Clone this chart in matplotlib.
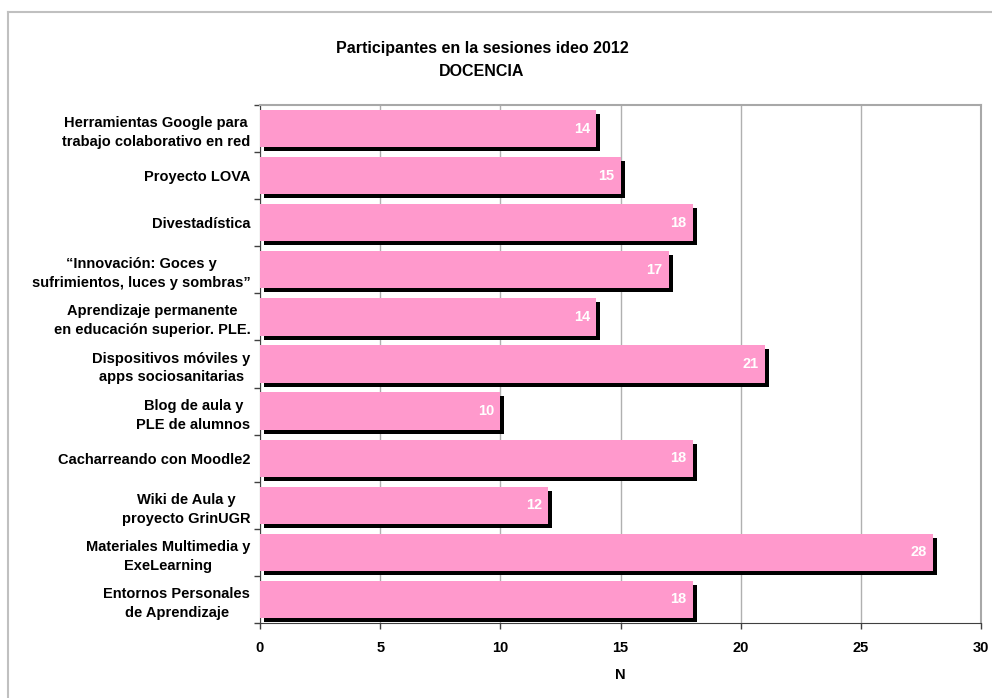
import matplotlib.pyplot as plt
from matplotlib.transforms import ScaledTranslation
from matplotlib.lines import Line2D

# sessions, top to bottom as shown in the chart
sesiones = [
    "Herramientas Google para\ntrabajo colaborativo en red",
    "Proyecto LOVA",
    "Divestadística",
    "\u201cInnovación: Goces y\nsufrimientos, luces y sombras\u201d",
    "Aprendizaje permanente\nen educación superior. PLE.",
    "Dispositivos móviles y\napps sociosanitarias",
    "Blog de aula y\nPLE de alumnos",
    "Cacharreando con Moodle2",
    "Wiki de Aula y\nproyecto GrinUGR",
    "Materiales Multimedia y\nExeLearning",
    "Entornos Personales\nde Aprendizaje",
]
participantes = [14, 15, 18, 17, 14, 21, 10, 18, 12, 28, 18]
x_ticks = [0, 5, 10, 15, 20, 25, 30]

plt.rcParams["font.family"] = ["Liberation Sans", "DejaVu Sans"]

fig = plt.figure(figsize=(9.92, 6.98), dpi=100)
ax = fig.add_axes([260 / 992, 1 - 623 / 698, (981 - 260) / 992, (623 - 105) / 698])

pos = list(range(len(sesiones)))
bar_h = 0.79

# drop shadow: same bars shifted 4px right and down
shadow = ax.transData + ScaledTranslation(4 / 100, -4 / 100, fig.dpi_scale_trans)
ax.barh(pos, participantes, height=bar_h, color="black", transform=shadow, zorder=2)
ax.barh(pos, participantes, height=bar_h, color="#FF99CC", zorder=3)

for p, v in zip(pos, participantes):
    ax.text(v - 0.25, p, str(v), ha="right", va="center", color="white",
            fontsize=10.5, fontweight="bold", zorder=4)

ax.set_xlim(0, 30)
ax.set_ylim(len(sesiones) - 0.5, -0.5)
ax.set_xticks(x_ticks)
ax.set_xticklabels([str(t) for t in x_ticks], fontsize=10.5, fontweight="bold")
ax.set_yticks(pos)
ax.set_yticklabels(sesiones, fontsize=10.5, fontweight="bold",
                   multialignment="center", linespacing=1.45)
ax.set_yticks([p - 0.5 for p in pos] + [len(pos) - 0.5], minor=True)
ax.tick_params(axis="y", which="major", length=0, pad=7)
ax.tick_params(axis="y", which="minor", length=4, width=1, color="#404040", direction="out")
ax.tick_params(axis="x", length=4, width=1, color="#404040", direction="out", pad=9)

ax.xaxis.grid(True, color="#B0B0B0", linewidth=1)
ax.set_axisbelow(True)
for s in ["left", "bottom"]:
    ax.spines[s].set_color("#404040")
for s in ["top", "right"]:
    ax.spines[s].set_color("#A8A8A8")
    ax.spines[s].set_linewidth(1.5)

ax.set_xlabel("N", fontsize=10.5, fontweight="bold", labelpad=9)

fig.text(482 / 992, 1 - 48 / 698, "Participantes en la sesiones ideo 2012",
         ha="center", va="center", fontsize=11.5, fontweight="bold")
fig.text(482 / 992, 1 - 72 / 698, "DOCENCIA",
         ha="center", va="center", fontsize=11.5, fontweight="bold")

# outer chart border (left and top visible)
fig.add_artist(Line2D([8 / 992, 8 / 992], [0, 1 - 12 / 698], color="#C0C0C0", lw=1.5,
                      transform=fig.transFigure))
fig.add_artist(Line2D([8 / 992, 1], [1 - 12 / 698, 1 - 12 / 698], color="#C0C0C0", lw=1.5,
                      transform=fig.transFigure))

fig.savefig("out.png", dpi=100)
